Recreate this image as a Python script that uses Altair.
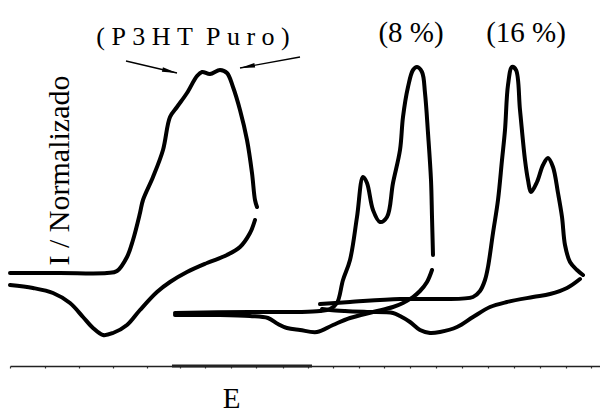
import math
import altair as alt
import pandas as pd

# ---------------- data (E, I in arbitrary units) ----------------
# P3HT puro – anodic (forward) sweep
P3HT_FWD_E = [10, 60, 107, 117, 127, 133, 140, 143, 153, 163, 170, 177, 187, 197, 202, 210, 220, 227, 233, 240, 247, 252, 255, 257]
P3HT_FWD_I = [93, 93, 93, 95, 109, 126, 153, 166, 189, 216, 249, 259, 273, 290, 294, 292, 296, 293, 279, 256, 226, 193, 166, 159]
# P3HT puro – cathodic (reverse) sweep
P3HT_REV_E = [255, 250, 240, 227, 207, 187, 170, 157, 140, 127, 113, 103, 93, 83, 70, 53, 33, 10]
P3HT_REV_I = [146, 133, 119, 111, 103, 94, 84, 74, 56, 41, 33, 31, 38, 49, 63, 73, 78, 81]

# 8 % – forward sweep
P8_FWD_E = [175, 250, 300, 320, 330, 337, 343, 350, 357, 363, 367, 373, 380, 387, 393, 400, 403, 408, 413, 417, 422, 425, 428, 431, 432, 433]
P8_FWD_I = [53, 54, 54, 55, 57, 63, 86, 106, 149, 189, 183, 156, 144, 149, 183, 216, 249, 279, 296, 299, 294, 273, 233, 186, 149, 111]
# 8 % – reverse sweep
P8_REV_E = [432, 427, 420, 413, 403, 393, 373, 350, 333, 317, 300, 287, 278, 268, 250, 220, 175]
P8_REV_I = [96, 84, 75, 69, 63, 59, 54, 48, 41, 34, 36, 38, 42, 48, 50, 51, 51]

# 16 % – forward sweep
P16_FWD_E = [320, 350, 400, 440, 473, 480, 485, 488, 493, 498, 502, 505, 508, 512, 516, 520, 525, 528, 531, 537, 543, 548, 553, 558, 562, 565, 570, 577, 583]
P16_FWD_I = [62, 64, 67, 67, 69, 75, 86, 99, 133, 166, 206, 236, 281, 299, 296, 256, 206, 186, 174, 184, 201, 208, 199, 173, 149, 121, 104, 96, 91]
# 16 % – reverse sweep
P16_REV_E = [580, 567, 550, 533, 507, 490, 473, 457, 440, 430, 420, 410, 400, 393, 367, 345, 330, 322]
P16_REV_I = [87, 78, 72, 69, 64, 59, 49, 39, 34, 33, 36, 44, 50, 53, 54, 55, 56, 57]

# annotations (non-breaking spaces give the wide letter spacing of the original)
NB = "\u00a0"
LABELS = [NB.join("(P3HT") + NB * 2 + NB.join("Puro)"), "(8 %)", "(16 %)"]
LABEL_E = [193, 411, 526]
LABEL_I = [321, 324, 324]
LABEL_SIZE = [26, 29, 29]

# arrows (start -> tip)
ARROW_E1 = [126, 300]
ARROW_I1 = [305, 309]
ARROW_E2 = [177, 240]
ARROW_I2 = [293, 298]

# axis decoration
TICKS_E = [10, 45, 79, 113, 147, 180, 205, 231, 256, 283, 308, 333, 359, 384, 410, 436, 462, 488, 514, 540, 566, 591]
BASE_SEG_E = [172, 312]
BASE_SEG_I = [0, 0]

# ---------------- tables ----------------
rows = []
for name, E, I in [
    ("p3ht_fwd", P3HT_FWD_E, P3HT_FWD_I),
    ("p3ht_rev", P3HT_REV_E, P3HT_REV_I),
    ("p8_fwd", P8_FWD_E, P8_FWD_I),
    ("p8_rev", P8_REV_E, P8_REV_I),
    ("p16_fwd", P16_FWD_E, P16_FWD_I),
    ("p16_rev", P16_REV_E, P16_REV_I),
]:
    for k, (e, i) in enumerate(zip(E, I)):
        rows.append({"E": e, "I": i, "seg": name, "k": k})
curves = pd.DataFrame(rows)

labels = pd.DataFrame({"E": LABEL_E, "I": LABEL_I, "txt": LABELS, "fs": LABEL_SIZE})

angles = []
for e1, i1, e2, i2 in zip(ARROW_E1, ARROW_I1, ARROW_E2, ARROW_I2):
    dx = e2 - e1
    dy_screen = -(i2 - i1)
    angles.append(math.degrees(math.atan2(dx, -dy_screen)) % 360)
arrows = pd.DataFrame({"E": ARROW_E1, "I": ARROW_I1, "E2": ARROW_E2, "I2": ARROW_I2, "ang": angles})
heads = pd.DataFrame({"E": ARROW_E2, "I": ARROW_I2, "ang": angles})
baseseg = pd.DataFrame({"E": BASE_SEG_E, "I": BASE_SEG_I})

FONT = "Liberation Serif"
xscale = alt.Scale(domain=[10, 600], nice=False, zero=False)
yscale = alt.Scale(domain=[0, 358], nice=False, zero=False)

xaxis = alt.Axis(
    title="E", values=TICKS_E, labels=False, grid=False,
    domainColor="#222", domainWidth=1.5, ticks=True, tickColor="#333", tickSize=2, tickWidth=1.2,
    titleFont=FONT, titleFontSize=29, titleFontWeight="normal", titleColor="black",
    titleX=221, titleY=41, titleBaseline="alphabetic", titleAlign="center",
)
yaxis = alt.Axis(
    title="I / Normalizado", domain=False, ticks=False, labels=False, grid=False,
    titleFont=FONT, titleFontSize=30, titleFontWeight="normal", titleColor="black",
    titleAngle=270, titleX=58, titleY=162, titleAlign="center", titleBaseline="alphabetic",
)

X = alt.X("E:Q", scale=xscale, axis=xaxis)
Y = alt.Y("I:Q", scale=yscale, axis=yaxis)

lines = alt.Chart(curves).mark_line(
    color="black", strokeWidth=4, strokeCap="round", strokeJoin="round", interpolate="catmull-rom"
).encode(x=X, y=Y, detail="seg:N", order="k:Q")

base_line = alt.Chart(baseseg).mark_line(color="#222", strokeWidth=3).encode(x=X, y=Y)

texts = alt.Chart(labels).mark_text(
    font=FONT, color="black", align="center", baseline="alphabetic"
).encode(
    x=X, y=Y, text="txt:N", size=alt.Size("fs:Q", scale=None, legend=None),
)

arrow_lines = alt.Chart(arrows).mark_rule(color="black", strokeWidth=1.3).encode(
    x=X, y=Y, x2="E2:Q", y2="I2:Q"
)

arrow_heads = alt.Chart(heads).mark_point(
    shape="M0,0L-0.3,2L0.3,2Z", filled=True, size=225, color="black", opacity=1, strokeWidth=0
).encode(x=X, y=Y, angle=alt.Angle("ang:Q", scale=None))

chart = alt.layer(lines, base_line, texts, arrow_lines, arrow_heads).properties(
    width=590, height=358,
    padding={"left": 2, "top": 0, "right": 0, "bottom": 47},
    autosize=alt.AutoSizeParams(type="none"),
    background="white",
).configure_view(stroke=None).configure_axis(
    titleFont=FONT, titleFontWeight="normal", titleColor="black"
).configure_text(font=FONT)

chart.save("out.html", embed_options={"renderer": "svg", "actions": False})
